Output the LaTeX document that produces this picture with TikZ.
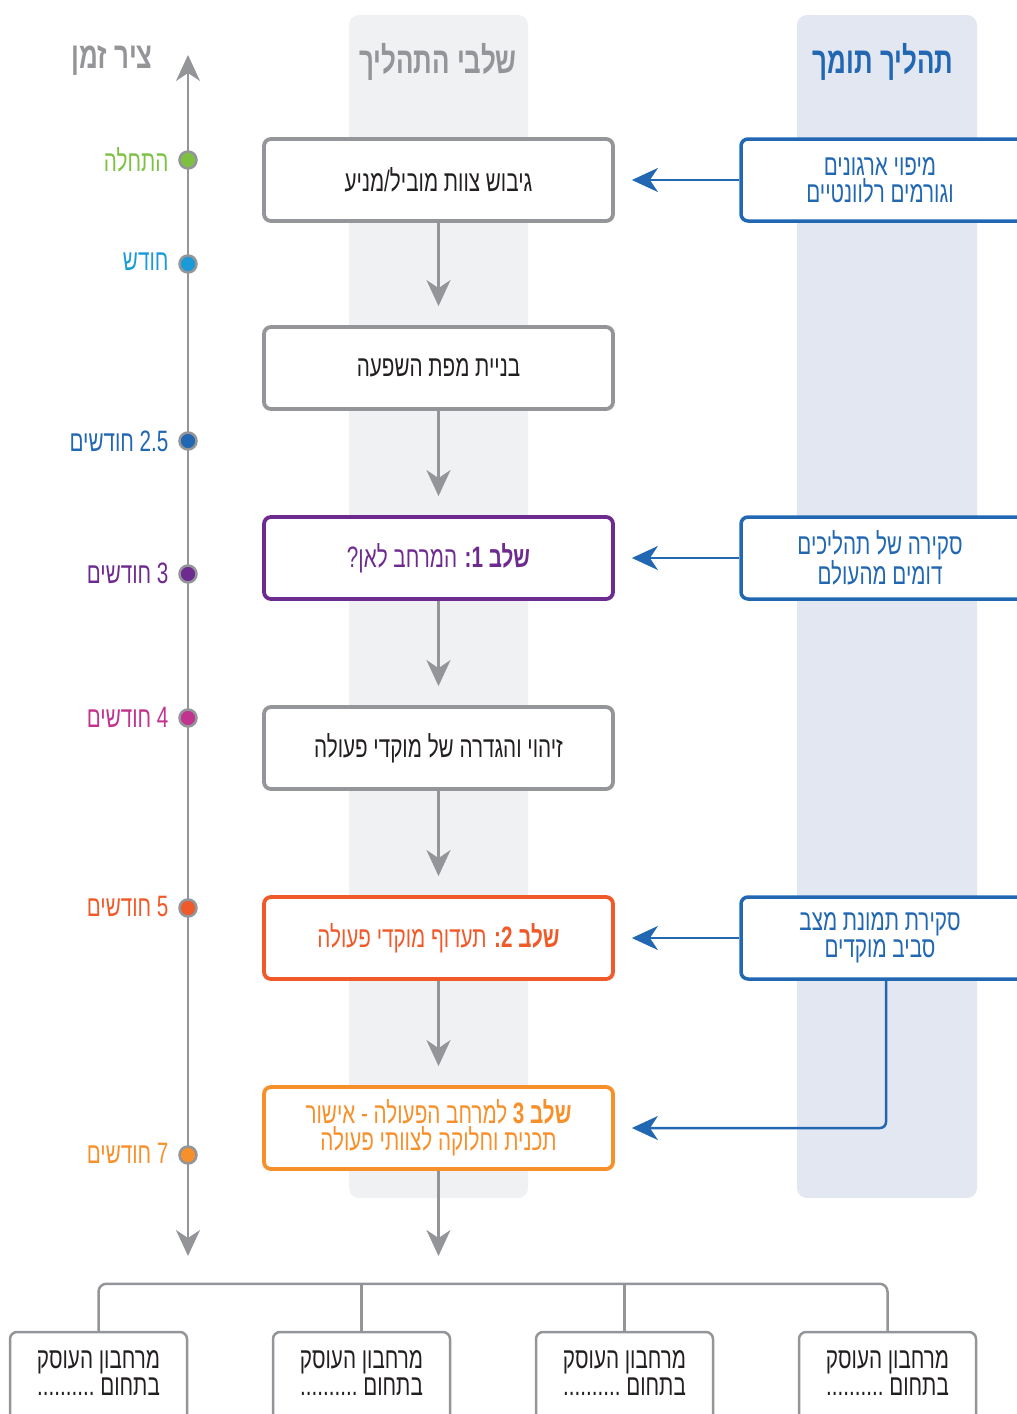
\documentclass[tikz,border=0pt]{standalone}
\usepackage{fontspec}
\setmainfont[Script=Hebrew,FakeStretch=0.70]{Liberation Sans}
\usetikzlibrary{arrows.meta}
\TeXXeTstate=1
\definecolor{lgray}{HTML}{939598}
\definecolor{txt}{HTML}{231F20}
\definecolor{hblue}{HTML}{2167B1}
\definecolor{hgreen}{HTML}{7CC142}
\definecolor{hcyan}{HTML}{1A9AD6}
\definecolor{hpurple}{HTML}{6E2B8F}
\definecolor{hmag}{HTML}{C2328F}
\definecolor{hred}{HTML}{F05A2A}
\definecolor{horange}{HTML}{F7902A}
\definecolor{midbg}{HTML}{F0F1F3}
\definecolor{rbg}{HTML}{E3E7F2}
\newcommand\RL[1]{\beginR#1\endR}
\newcommand\bodyfont{\fontsize{29.5}{27}\selectfont}
\newcommand\titlefont{\fontsize{37}{40}\selectfont\bfseries}
\tikzset{
  tip/.style={-{Stealth[length=26pt,width=24pt,inset=8pt]}},
  gline/.style={draw=lgray,line width=2.5pt},
  mainbox/.style={draw=#1,line width=3.8pt,rounded corners=7pt,fill=white,
    minimum width=349pt,minimum height=82pt,align=center,font=\bodyfont},
  supbox/.style={draw=hblue,line width=3.5pt,rounded corners=7pt,fill=white,
    minimum width=290pt,minimum height=82pt},
  subbox/.style={draw=lgray,line width=2.5pt,rounded corners=7pt,fill=white,
    minimum width=177pt,minimum height=96pt},
  tdot/.style={circle,fill=#1,draw=lgray,line width=2.5pt,minimum size=17pt,inner sep=0pt},
  tlabel/.style={anchor=east,font=\bodyfont,text=#1},
  title/.style={font=\titlefont,text=#1},
}
\begin{document}
\begin{tikzpicture}[x=1pt,y=-1pt]
\useasboundingbox (0,0) rectangle (1017,1414);
% column backgrounds
\fill[midbg,rounded corners=10pt] (349,15) rectangle (528,1198);
\fill[rbg,rounded corners=10pt] (797,15) rectangle (977,1198);
% titles
\node[title=lgray] (ttime) at (112,60) {\RL{ציר זמן}};
\node[title=lgray] (tsteps) at (438,62) {\RL{שלבי התהליך}};
\node[title=hblue] (tsup) at (883,62) {\RL{תהליך תומך}};
% timeline
\coordinate (ttop) at (188,55);
\coordinate (tbot) at (188,1256);
\draw[gline,{Stealth[length=26pt,width=24pt,inset=8pt]}-{Stealth[length=26pt,width=24pt,inset=8pt]}] (tbot) -- (ttop);
\node[tdot=hgreen] (d1) at (188,160) {};
\node[tdot=hcyan] (d2) at (188,264) {};
\node[tdot=hblue] (d3) at (188,441) {};
\node[tdot=hpurple] (d4) at (188,574) {};
\node[tdot=hmag] (d5) at (188,718) {};
\node[tdot=hred] (d6) at (188,908) {};
\node[tdot=horange] (d7) at (188,1155) {};
\node[tlabel=hgreen] (l1) at (172,160) {\RL{התחלה}};
\node[tlabel=hcyan] (l2) at (172,262) {\RL{חודש}};
\node[tlabel=hblue] (l3) at (172,441) {\RL{2.5 חודשים}};
\node[tlabel=hpurple] (l4) at (172,573) {\RL{3 חודשים}};
\node[tlabel=hmag] (l5) at (172,717) {\RL{4 חודשים}};
\node[tlabel=hred] (l6) at (172,906) {\RL{5 חודשים}};
\node[tlabel=horange] (l7) at (172,1153) {\RL{7 חודשים}};
% main boxes
\node[mainbox=lgray,text=txt] (b1) at (438.5,180) {\RL{גיבוש צוות מוביל\kern0pt/\kern0ptמניע}};
\node[mainbox=lgray,text=txt] (b2) at (438.5,368) {\RL{בניית מפת השפעה}};
\node[mainbox=hpurple,text=hpurple] (b3) at (438.5,558) {\RL{{\bfseries שלב 1\kern0pt:} המרחב לאן\kern0pt?}};
\node[mainbox=lgray,text=txt] (b4) at (438.5,748) {\RL{זיהוי והגדרה של מוקדי פעולה}};
\node[mainbox=hred,text=hred] (b5) at (438.5,938) {\RL{{\bfseries שלב 2\kern0pt:} תעדוף מוקדי פעולה}};
\node[mainbox=horange,text=horange] (b6) at (438.5,1128) {\RL{{\bfseries שלב 3} למרחב הפעולה - אישור}\\\RL{תכנית וחלוקה לצוותי פעולה}};
\coordinate (mend) at (438.5,1256);
\foreach \a/\b in {b1/b2,b2/b3,b3/b4,b4/b5,b5/b6}
  \draw[gline,tip,shorten >=19pt] (\a.south) -- (\b.north);
\draw[gline,tip] (b6.south) -- (mend);
% support boxes
\node[supbox,label={[xshift=-6pt,align=center,text=hblue,font=\bodyfont]center:{\RL{מיפוי ארגונים}\\\RL{וגורמים רלוונטיים}}}] (r1) at (886,180) {};
\node[supbox,label={[xshift=-6pt,align=center,text=hblue,font=\bodyfont]center:{\RL{סקירה של תהליכים}\\\RL{דומים מהעולם}}}] (r2) at (886,558) {};
\node[supbox,label={[xshift=-6pt,align=center,text=hblue,font=\bodyfont]center:{\RL{סקירת תמונת מצב}\\\RL{סביב מוקדים}}}] (r3) at (886,938) {};
\draw[hblue,line width=2.5pt,tip,shorten >=17pt] (r1.west) -- (b1.east);
\draw[hblue,line width=2.5pt,tip,shorten >=17pt] (r2.west) -- (b3.east);
\draw[hblue,line width=2.5pt,tip,shorten >=17pt] (r3.west) -- (b5.east);
\draw[hblue,line width=2.5pt,tip,shorten >=17pt,rounded corners=6pt] (r3.south) |- (b6.east);
% sub boxes
\foreach \n/\x in {s1/98.5,s2/361.5,s3/624.5,s4/887.5}
  \node[subbox,label={[yshift=7pt,align=center,text=txt,font=\bodyfont]center:{\RL{מרחבון העוסק}\\\RL{בתחום ..........}}}] (\n) at (\x,1380) {};
\draw[gline,rounded corners=8pt] (s1.north) -- ([yshift=47pt]s1.north) -- ([yshift=47pt]s4.north) -- (s4.north);
\draw[gline] (s2.north) -- ([yshift=47pt]s2.north);
\draw[gline] (s3.north) -- ([yshift=47pt]s3.north);
\end{tikzpicture}
\end{document}
